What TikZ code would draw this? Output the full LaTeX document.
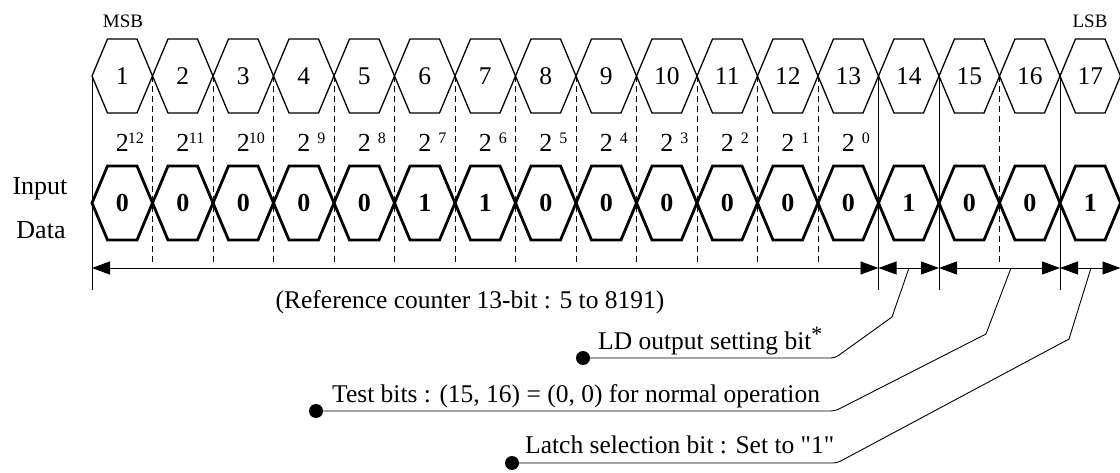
\documentclass[tikz,border=0pt]{standalone}
\usepackage{fontspec}
\setmainfont{Liberation Serif}[Ligatures=TeXOff]
\usetikzlibrary{arrows.meta}

\newcommand{\pw}[1]{2\rlap{\raisebox{0.3em}{\fontsize{16}{16}\selectfont\makebox[15pt][r]{#1}}}}

\tikzset{
    bitcell/.style={line width=1.3pt, line join=miter},
    datacell/.style={line width=2.8pt, line join=miter},
    grid line/.style={line width=0.9pt},
    dash line/.style={line width=0.9pt, dash pattern=on 6pt off 4pt},
    span/.style={line width=0.9pt, {Triangle[length=18pt,width=13pt]}-{Triangle[length=18pt,width=13pt]}},
    leader/.style={line width=0.9pt},
    dot/.style={circle, fill, minimum size=14pt, inner sep=0pt},
}

\begin{document}
\begin{tikzpicture}[x=1pt, y=-1pt, every node/.style={inner sep=0pt, font=\fontsize{25.5}{28}\selectfont}]
    \useasboundingbox (0,0) rectangle (1120,473);
    \foreach \k in {0,...,17} {
        \coordinate (t\k) at (92+60.5*\k, 76);
        \coordinate (a\k) at (92+60.5*\k, 268);
    }

    \node[font=\fontsize{19}{20}\selectfont] (msb) at (123,21) {MSB};
    \node[font=\fontsize{19}{20}\selectfont] (lsb) at (1090,21) {LSB};

    \foreach \v [count=\n, evaluate=\n as \xa using 92+60.5*(\n-1)] in {0,0,0,0,0,1,1,0,0,0,0,0,0,1,0,0,1} {
        \draw[bitcell] (\xa,76) -- ++(15.5,-37) -- ++(29.5,0) -- ++(15.5,37) -- ++(-15.5,37) -- ++(-29.5,0) -- cycle;
        \node (num\n) at (\xa+30.25,76) {\n};
        \draw[datacell] (\xa,203) -- ++(15.5,-37) -- ++(29.5,0) -- ++(15.5,37) -- ++(-15.5,37) -- ++(-29.5,0) -- cycle;
        \node[font=\fontsize{26}{28}\selectfont\bfseries] (bit\n) at (\xa+30.25,203) {\v};
    }
    \foreach \e [count=\n, evaluate=\n as \xa using 92+60.5*(\n-1)] in {12,11,...,0}
        \node[font=\fontsize{26}{28}\selectfont] (pow\n) at (\xa+30.25,142) {\pw{\e}};

    \foreach \k in {1,...,12,15}
        \draw[dash line] (t\k) -- ++(0,187);
    \foreach \k in {0,13,14,16}
        \draw[grid line] (t\k) -- ++(0,214);

    \node[font=\fontsize{26}{28}\selectfont] (inlbl) at (40,189) {Input};
    \node[font=\fontsize{26}{28}\selectfont] (datalbl) at (41,230) {Data};

    \draw[span] (a0) -- (a13);
    \draw[span] (a13) -- (a14);
    \draw[span] (a14) -- (a16);
    \draw[span] (a16) -- (a17);
    \node (refcnt) at (470,302) {(Reference counter 13-bit : 5 to 8191)};

    \coordinate (ldtap) at (909,268);
    \coordinate (testtap) at (1011,268);
    \coordinate (latchtap) at (1091,268);
    \node[dot] (lddot) at (583,358) {};
    \node[dot] (testdot) at (316,411) {};
    \node[dot] (latchdot) at (512,463) {};
    \node[anchor=base west] (ldtext) at (598,349) {LD output setting bit\raisebox{0.3em}{\fontsize{22}{22}\selectfont *}};
    \node[anchor=base west] (testtext) at (332,402) {Test bits : (15, 16) = (0, 0) for normal operation};
    \node[anchor=base west] (latchtext) at (525,453) {Latch selection bit : Set to "1"};
    \draw[leader] (ldtap) -- (892,317) [rounded corners=4pt] -- (835,358) -- (lddot.center);
    \draw[leader] (testtap) -- (986,334) [rounded corners=4pt] -- (835,411) -- (testdot.center);
    \draw[leader] (latchtap) -- (1069,339) [rounded corners=4pt] -- (837,463) -- (latchdot.center);
\end{tikzpicture}
\end{document}
